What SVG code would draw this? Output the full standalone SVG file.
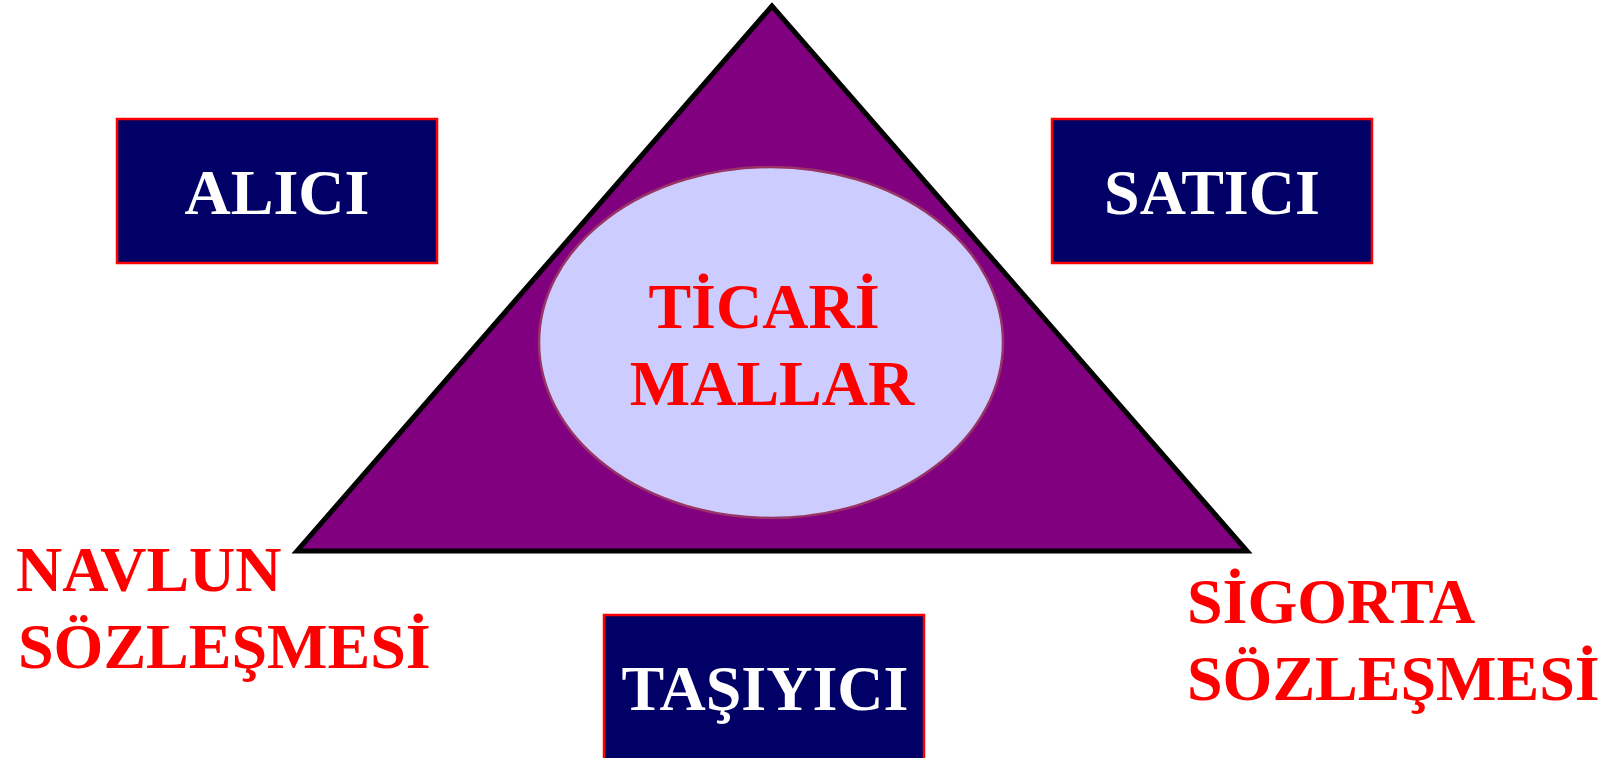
<svg xmlns="http://www.w3.org/2000/svg" width="1614" height="758" viewBox="0 0 1614 758">
<style>
.t{font-family:"Liberation Serif","Times New Roman",serif;font-weight:bold;font-size:64px}
.w{fill:#FFFFFF}
.r{fill:#FF0000}
.box{fill:#000066;stroke:#FF0000;stroke-width:2.5}
</style>
<rect width="1614" height="758" fill="#FFFFFF"/>
<g id="triangle">
<polygon points="772,6 297,551 1247,551" fill="#800080" stroke="#000000" stroke-width="5" stroke-linejoin="miter"/>
</g>
<g id="ticari-mallar">
<ellipse cx="771" cy="342.5" rx="232" ry="175.5" fill="#CCCCFF" stroke="#993366" stroke-width="2.5"/>
<text class="t r" x="764" y="328" text-anchor="middle">TİCARİ</text>
<text class="t r" x="772" y="405" text-anchor="middle">MALLAR</text>
</g>
<g id="alici">
<rect class="box" x="117" y="119" width="320" height="144"/>
<text class="t w" x="277" y="214" text-anchor="middle">ALICI</text>
</g>
<g id="satici">
<rect class="box" x="1052" y="119" width="320" height="144"/>
<text class="t w" x="1212" y="214" text-anchor="middle">SATICI</text>
</g>
<g id="tasiyici">
<rect class="box" x="604" y="615" width="320" height="145"/>
<text class="t w" x="765" y="710" text-anchor="middle">TAŞIYICI</text>
</g>
<g id="navlun">
<text class="t r" x="16" y="591">NAVLUN</text>
<text class="t r" x="18" y="668">SÖZLEŞMESİ</text>
</g>
<g id="sigorta">
<text class="t r" x="1187" y="623">SİGORTA</text>
<text class="t r" x="1187" y="700">SÖZLEŞMESİ</text>
</g>
<g id="connectors"></g>
</svg>
